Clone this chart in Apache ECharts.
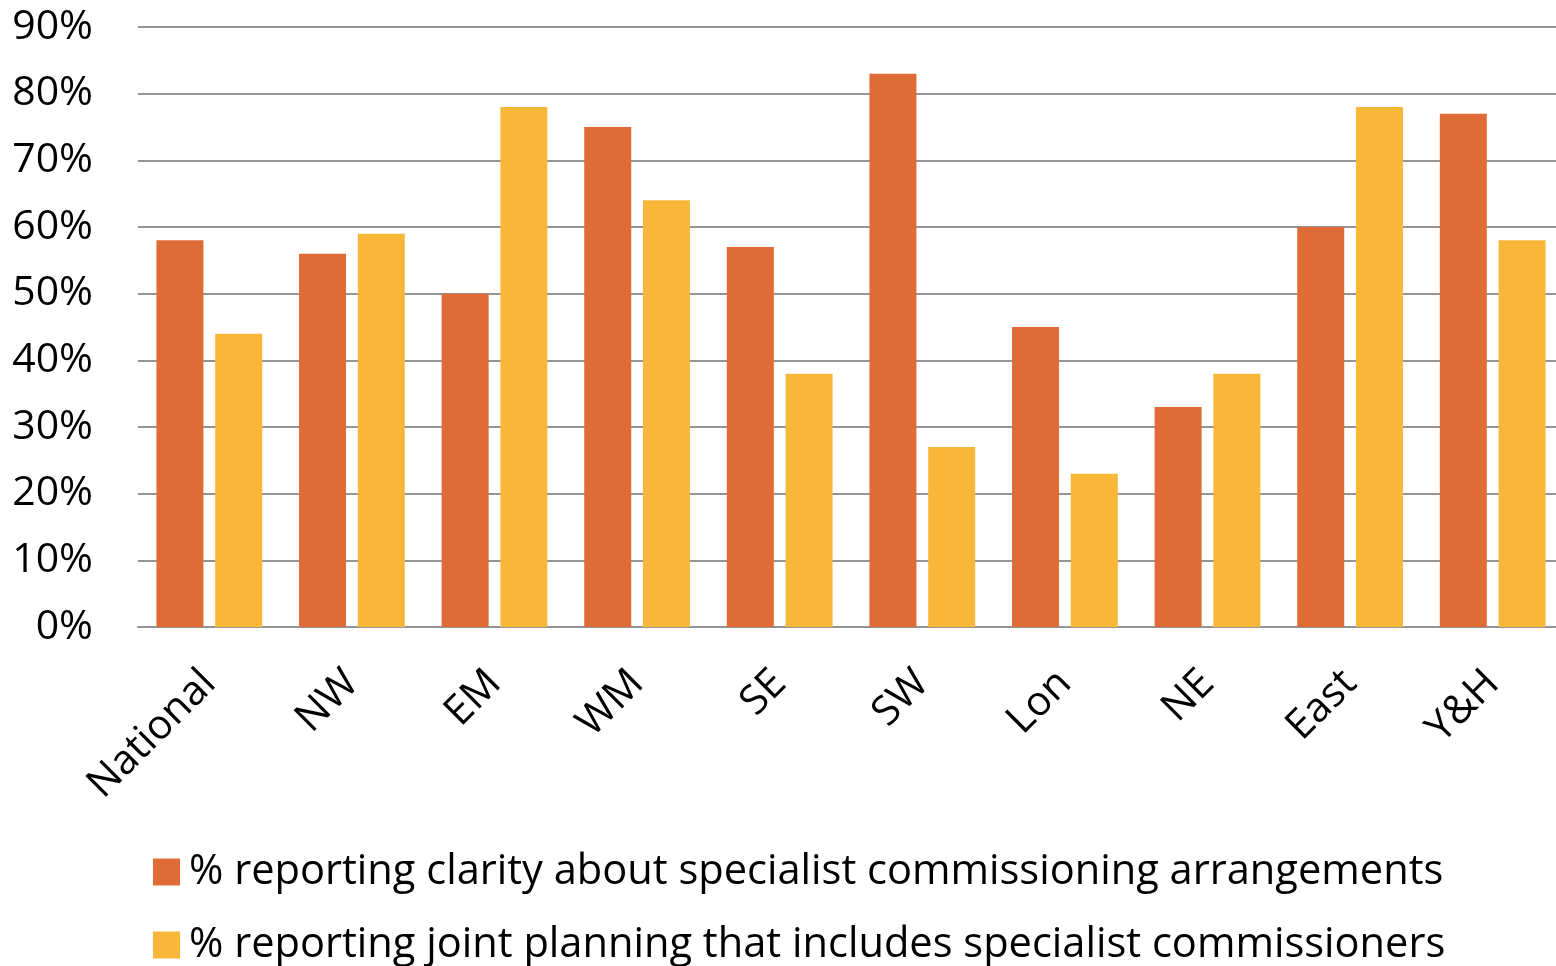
<!DOCTYPE html>
<html>
<head>
<meta charset="utf-8">
<script src="https://cdn.jsdelivr.net/npm/echarts@6/dist/echarts.min.js"></script>
<style>
  html, body { margin: 0; padding: 0; background: #fff; overflow: hidden; }
  /* larger than the window: the plot runs past the right edge and the
     second legend line is cut at the bottom, like the original slide */
  #chart { width: 1564px; height: 1010px; }
</style>
</head>
<body>
<div id="chart"></div>
<script>
var regions = ["National", "NW", "EM", "WM", "SE", "SW", "Lon", "NE", "East", "Y&H"];
var clarity = [58, 56, 50, 75, 57, 83, 45, 33, 60, 77];
var jointPlanning = [44, 59, 78, 64, 38, 27, 23, 38, 78, 58];
var seriesNames = [
  "% reporting clarity about specialist commissioning arrangements",
  "% reporting joint planning that includes specialist commissioners"
];

var font = "Open Sans";
var chart = echarts.init(document.getElementById("chart"));
chart.setOption({
  animation: false,
  color: ["#DF6C37", "#F9B73A"],
  textStyle: { fontFamily: font },
  grid: { left: 138, right: 0, top: 27, bottom: 383, containLabel: false },
  legend: {
    orient: "vertical",
    left: 148,
    top: 846,
    itemWidth: 27,
    itemHeight: 27,
    itemGap: 31,
    icon: "rect",
    textStyle: { fontSize: 41.6, color: "#000", fontFamily: font, padding: [0, 0, 0, 4] },
    data: seriesNames
  },
  xAxis: {
    type: "category",
    data: regions,
    axisTick: { show: false },
    axisLine: { lineStyle: { color: "#959595", width: 2 } },
    axisLabel: {
      rotate: 45,
      margin: 50,
      fontSize: 41,
      color: "#000",
      interval: 0
    }
  },
  yAxis: {
    type: "value",
    min: 0,
    max: 90,
    interval: 10,
    axisLine: { show: false },
    axisTick: { show: false },
    splitLine: { lineStyle: { color: "#959595", width: 2 } },
    axisLabel: {
      formatter: "{value}%",
      fontSize: 41,
      color: "#000",
      margin: 45
    }
  },
  series: [
    { name: seriesNames[0], type: "bar", data: clarity, barWidth: 47, barGap: "25%" },
    { name: seriesNames[1], type: "bar", data: jointPlanning, barWidth: 47, barGap: "25%" }
  ]
});
</script>
</body>
</html>
